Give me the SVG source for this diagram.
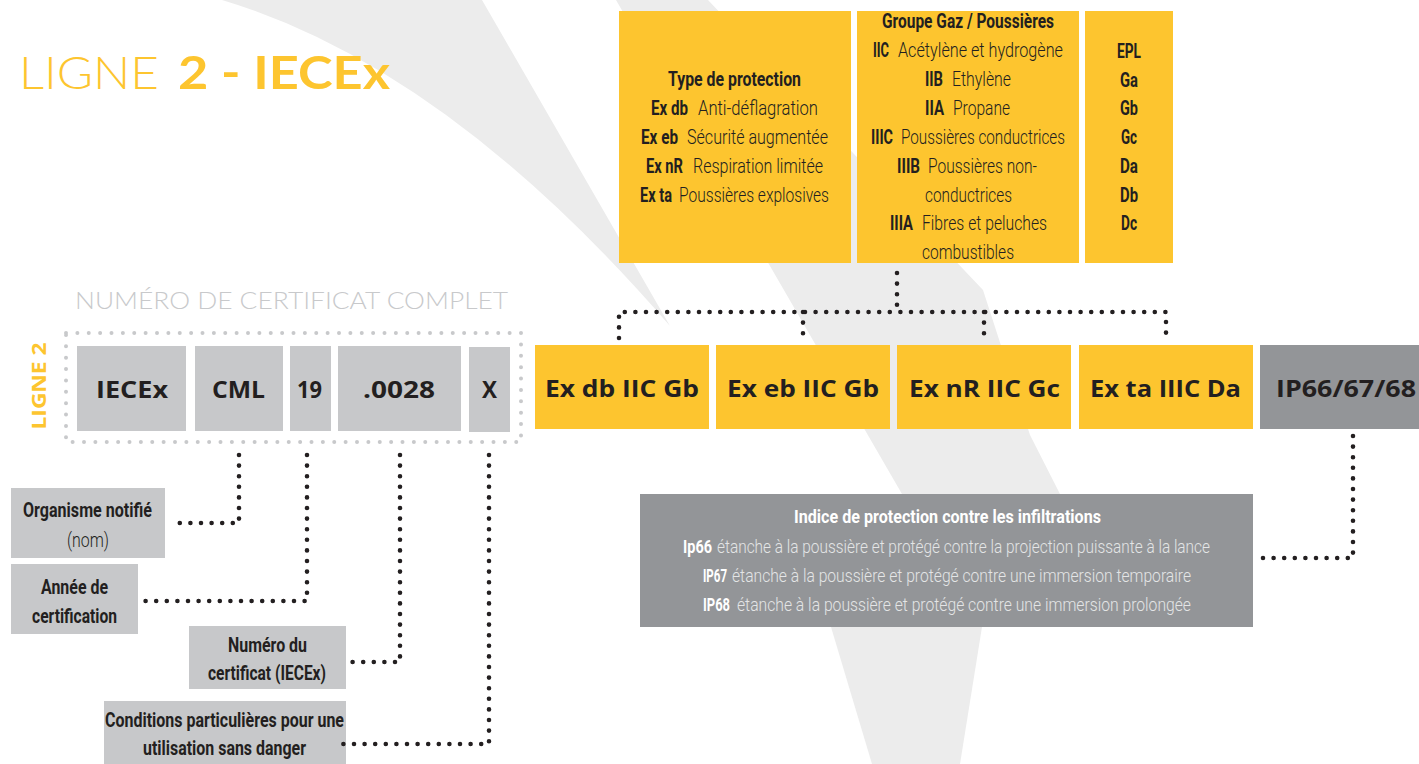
<svg xmlns="http://www.w3.org/2000/svg" width="1419" height="764" viewBox="0 0 1419 764">
<style>
.bg{fill:#ececec}
.y{fill:#fdc52f}
.g{fill:#939598}
.lg{fill:#c7c8ca}
.c{font-family:"Roboto","Liberation Sans",sans-serif;font-size:21px;fill:#231f20;font-weight:300}
.e{font-family:"Roboto","Liberation Sans",sans-serif;font-size:20px;fill:#231f20;font-weight:700;text-anchor:middle}
.ip{font-family:"Roboto","Liberation Sans",sans-serif;font-size:18px;fill:#e4e5e6;font-weight:300}
.b{font-weight:700}
.w{fill:#ffffff}
.code{font-family:"Open Sans","Liberation Sans",sans-serif;font-weight:700;font-size:23px;fill:#231f20}
.dots{fill:none;stroke:#231f20;stroke-width:4.6;stroke-linecap:round;stroke-dasharray:0 10.6}
.gdots{fill:none;stroke:#c8c9cb;stroke-width:4;stroke-linecap:round;stroke-dasharray:0 11.375}
</style>
<rect width="1419" height="764" fill="#ffffff"/>
<g id="background">
<path class="bg" d="M222,0 L482,0 L670,326 Q446,67 222,0 Z"/>
<path class="bg" d="M616,0 L708,0 L983,290 L1030,435 L1060,494 L902,494 Z"/>
<path class="bg" d="M831,627 L982,627 L960,764 L872,764 Z"/>
</g>
<g id="title">
<text x="19" y="89" font-family="Lato,'Open Sans',sans-serif" font-weight="300" font-size="46" fill="#fdc52f" textLength="140" lengthAdjust="spacingAndGlyphs">LIGNE</text>
<text x="178" y="89" font-family="Lato,'Open Sans',sans-serif" font-weight="700" font-size="46" fill="#fdc52f" textLength="212" lengthAdjust="spacingAndGlyphs">2 - IECEx</text>
</g>
<g id="type-protection">
<rect class="y" x="619" y="11" width="232" height="252"/>
<text class="c b" x="668" y="86" textLength="133" lengthAdjust="spacingAndGlyphs">Type de protection</text>
<text class="c b" x="651" y="115" textLength="37" lengthAdjust="spacingAndGlyphs">Ex db</text>
<text class="c" x="698" y="115" textLength="120" lengthAdjust="spacingAndGlyphs">Anti-déflagration</text>
<text class="c b" x="641" y="144" textLength="37" lengthAdjust="spacingAndGlyphs">Ex eb</text>
<text class="c" x="687" y="144" textLength="141" lengthAdjust="spacingAndGlyphs">Sécurité augmentée</text>
<text class="c b" x="646" y="173" textLength="37" lengthAdjust="spacingAndGlyphs">Ex nR</text>
<text class="c" x="693" y="173" textLength="130" lengthAdjust="spacingAndGlyphs">Respiration limitée</text>
<text class="c b" x="640" y="202" textLength="32" lengthAdjust="spacingAndGlyphs">Ex ta</text>
<text class="c" x="679" y="202" textLength="150" lengthAdjust="spacingAndGlyphs">Poussières explosives</text>
</g>
<g id="groupe-gaz">
<rect class="y" x="857" y="11" width="222" height="252"/>
<text class="c b" x="882" y="28" textLength="172" lengthAdjust="spacingAndGlyphs">Groupe Gaz / Poussières</text>
<text class="c b" x="873" y="57" textLength="16" lengthAdjust="spacingAndGlyphs">IIC</text>
<text class="c" x="898" y="57" textLength="165" lengthAdjust="spacingAndGlyphs">Acétylène et hydrogène</text>
<text class="c b" x="925" y="86" textLength="18" lengthAdjust="spacingAndGlyphs">IIB</text>
<text class="c" x="952" y="86" textLength="59" lengthAdjust="spacingAndGlyphs">Ethylène</text>
<text class="c b" x="925" y="115" textLength="19" lengthAdjust="spacingAndGlyphs">IIA</text>
<text class="c" x="953" y="115" textLength="57" lengthAdjust="spacingAndGlyphs">Propane</text>
<text class="c b" x="871" y="144" textLength="22" lengthAdjust="spacingAndGlyphs">IIIC</text>
<text class="c" x="901" y="144" textLength="164" lengthAdjust="spacingAndGlyphs">Poussières conductrices</text>
<text class="c b" x="897" y="173" textLength="23" lengthAdjust="spacingAndGlyphs">IIIB</text>
<text class="c" x="928" y="173" textLength="109" lengthAdjust="spacingAndGlyphs">Poussières non-</text>
<text class="c" x="925" y="202" textLength="87" lengthAdjust="spacingAndGlyphs">conductrices</text>
<text class="c b" x="890" y="230" textLength="23" lengthAdjust="spacingAndGlyphs">IIIA</text>
<text class="c" x="922" y="230" textLength="125" lengthAdjust="spacingAndGlyphs">Fibres et peluches</text>
<text class="c" x="922" y="259" textLength="92" lengthAdjust="spacingAndGlyphs">combustibles</text>
</g>
<g id="epl">
<rect class="y" x="1085" y="11" width="88" height="252"/>
<text class="e" x="1129" y="58" textLength="24" lengthAdjust="spacingAndGlyphs">EPL</text>
<text class="e" x="1129" y="87" textLength="18" lengthAdjust="spacingAndGlyphs">Ga</text>
<text class="e" x="1129" y="115" textLength="18" lengthAdjust="spacingAndGlyphs">Gb</text>
<text class="e" x="1129" y="144" textLength="16" lengthAdjust="spacingAndGlyphs">Gc</text>
<text class="e" x="1129" y="173" textLength="18" lengthAdjust="spacingAndGlyphs">Da</text>
<text class="e" x="1129" y="202" textLength="18" lengthAdjust="spacingAndGlyphs">Db</text>
<text class="e" x="1129" y="230" textLength="16" lengthAdjust="spacingAndGlyphs">Dc</text>
</g>
<g id="certificat">
<text x="75" y="309" font-family="Lato,'Open Sans',sans-serif" font-weight="300" font-size="24" fill="#c8c9cb" textLength="433" lengthAdjust="spacingAndGlyphs">NUMÉRO DE CERTIFICAT COMPLET</text>
<text transform="translate(46,386) rotate(-90)" text-anchor="middle" font-family="'Open Sans','Liberation Sans',sans-serif" font-weight="700" font-size="20" fill="#fdc52f" textLength="87" lengthAdjust="spacingAndGlyphs">LIGNE 2</text>
<path class="gdots" d="M66,333 H521 V442 H66 Z"/>
</g>
<g id="iecex"><rect class="lg" x="77" y="346" width="109" height="85"/><text class="code" x="96" y="398" textLength="72" lengthAdjust="spacingAndGlyphs">IECEx</text></g>
<g id="cml"><rect class="lg" x="195" y="346" width="88" height="85"/><text class="code" x="212" y="398" textLength="53" lengthAdjust="spacingAndGlyphs">CML</text></g>
<g id="annee"><rect class="lg" x="290" y="346" width="41" height="85"/><text class="code" x="297" y="398" textLength="25" lengthAdjust="spacingAndGlyphs">19</text></g>
<g id="numero"><rect class="lg" x="338" y="346" width="123" height="85"/><text class="code" x="363" y="398" textLength="72" lengthAdjust="spacingAndGlyphs">.0028</text></g>
<g id="x"><rect class="lg" x="469" y="347" width="41" height="85"/><text class="code" x="482" y="398" textLength="15" lengthAdjust="spacingAndGlyphs">X</text></g>
<g id="code-db"><rect class="y" x="535" y="345" width="174" height="84"/><text class="code" x="545" y="397" textLength="154" lengthAdjust="spacingAndGlyphs">Ex db IIC Gb</text></g>
<g id="code-eb"><rect class="y" x="716" y="345" width="174" height="84"/><text class="code" x="727" y="397" textLength="152" lengthAdjust="spacingAndGlyphs">Ex eb IIC Gb</text></g>
<g id="code-nr"><rect class="y" x="897" y="345" width="174" height="84"/><text class="code" x="909" y="397" textLength="151" lengthAdjust="spacingAndGlyphs">Ex nR IIC Gc</text></g>
<g id="code-ta"><rect class="y" x="1079" y="345" width="174" height="84"/><text class="code" x="1090" y="397" textLength="151" lengthAdjust="spacingAndGlyphs">Ex ta IIIC Da</text></g>
<g id="code-ip"><rect class="g" x="1260" y="345" width="159" height="84"/><text class="code w" x="1276" y="397" textLength="140" lengthAdjust="spacingAndGlyphs">IP66/67/68</text></g>
<g id="indice-ip">
<rect class="g" x="640" y="494" width="613" height="133"/>
<text class="ip b w" x="794" y="523" textLength="307" lengthAdjust="spacingAndGlyphs">Indice de protection contre les infiltrations</text>
<text class="ip b w" x="683" y="553" textLength="29" lengthAdjust="spacingAndGlyphs">Ip66</text>
<text class="ip" x="717" y="553" textLength="493" lengthAdjust="spacingAndGlyphs">étanche à la poussière et protégé contre la projection puissante à la lance</text>
<text class="ip b w" x="703" y="582" textLength="24" lengthAdjust="spacingAndGlyphs">IP67</text>
<text class="ip" x="732" y="582" textLength="459" lengthAdjust="spacingAndGlyphs">étanche à la poussière et protégé contre une immersion temporaire</text>
<text class="ip b w" x="703" y="611" textLength="27" lengthAdjust="spacingAndGlyphs">IP68</text>
<text class="ip" x="737" y="611" textLength="454" lengthAdjust="spacingAndGlyphs">étanche à la poussière et protégé contre une immersion prolongée</text>
</g>
<g id="organisme"><rect class="lg" x="11" y="488" width="154" height="70"/>
<text class="c b" x="23" y="517" textLength="129" lengthAdjust="spacingAndGlyphs">Organisme notifié</text>
<text class="c" x="67" y="547" textLength="42" lengthAdjust="spacingAndGlyphs">(nom)</text></g>
<g id="annee-cert"><rect class="lg" x="11" y="564" width="127" height="70"/>
<text class="c b" x="41" y="594" textLength="67" lengthAdjust="spacingAndGlyphs">Année de</text>
<text class="c b" x="32" y="623" textLength="85" lengthAdjust="spacingAndGlyphs">certification</text></g>
<g id="numero-cert"><rect class="lg" x="189" y="626" width="157" height="63"/>
<text class="c b" x="228" y="652" textLength="79" lengthAdjust="spacingAndGlyphs">Numéro du</text>
<text class="c b" x="208" y="680" textLength="118" lengthAdjust="spacingAndGlyphs">certificat (IECEx)</text></g>
<g id="conditions"><rect class="lg" x="104" y="701" width="242" height="63"/>
<text class="c b" x="105" y="727" textLength="239" lengthAdjust="spacingAndGlyphs">Conditions particulières pour une</text>
<text class="c b" x="143" y="755" textLength="163" lengthAdjust="spacingAndGlyphs">utilisation sans danger</text></g>
<g id="connectors">
<path class="dots" d="M897,273 V312"/>
<path class="dots" d="M619,338 V312 H1166 V338"/>
<path class="dots" d="M803,312 V338"/>
<path class="dots" d="M984,312 V338"/>
<path class="dots" d="M1353,436 V558 H1260"/>
<path class="dots" d="M239,455 V523 H170"/>
<path class="dots" d="M307,455 V601 H145"/>
<path class="dots" d="M400,455 V662 H343"/>
<path class="dots" d="M489,455 V744 H343"/>
</g>
</svg>
